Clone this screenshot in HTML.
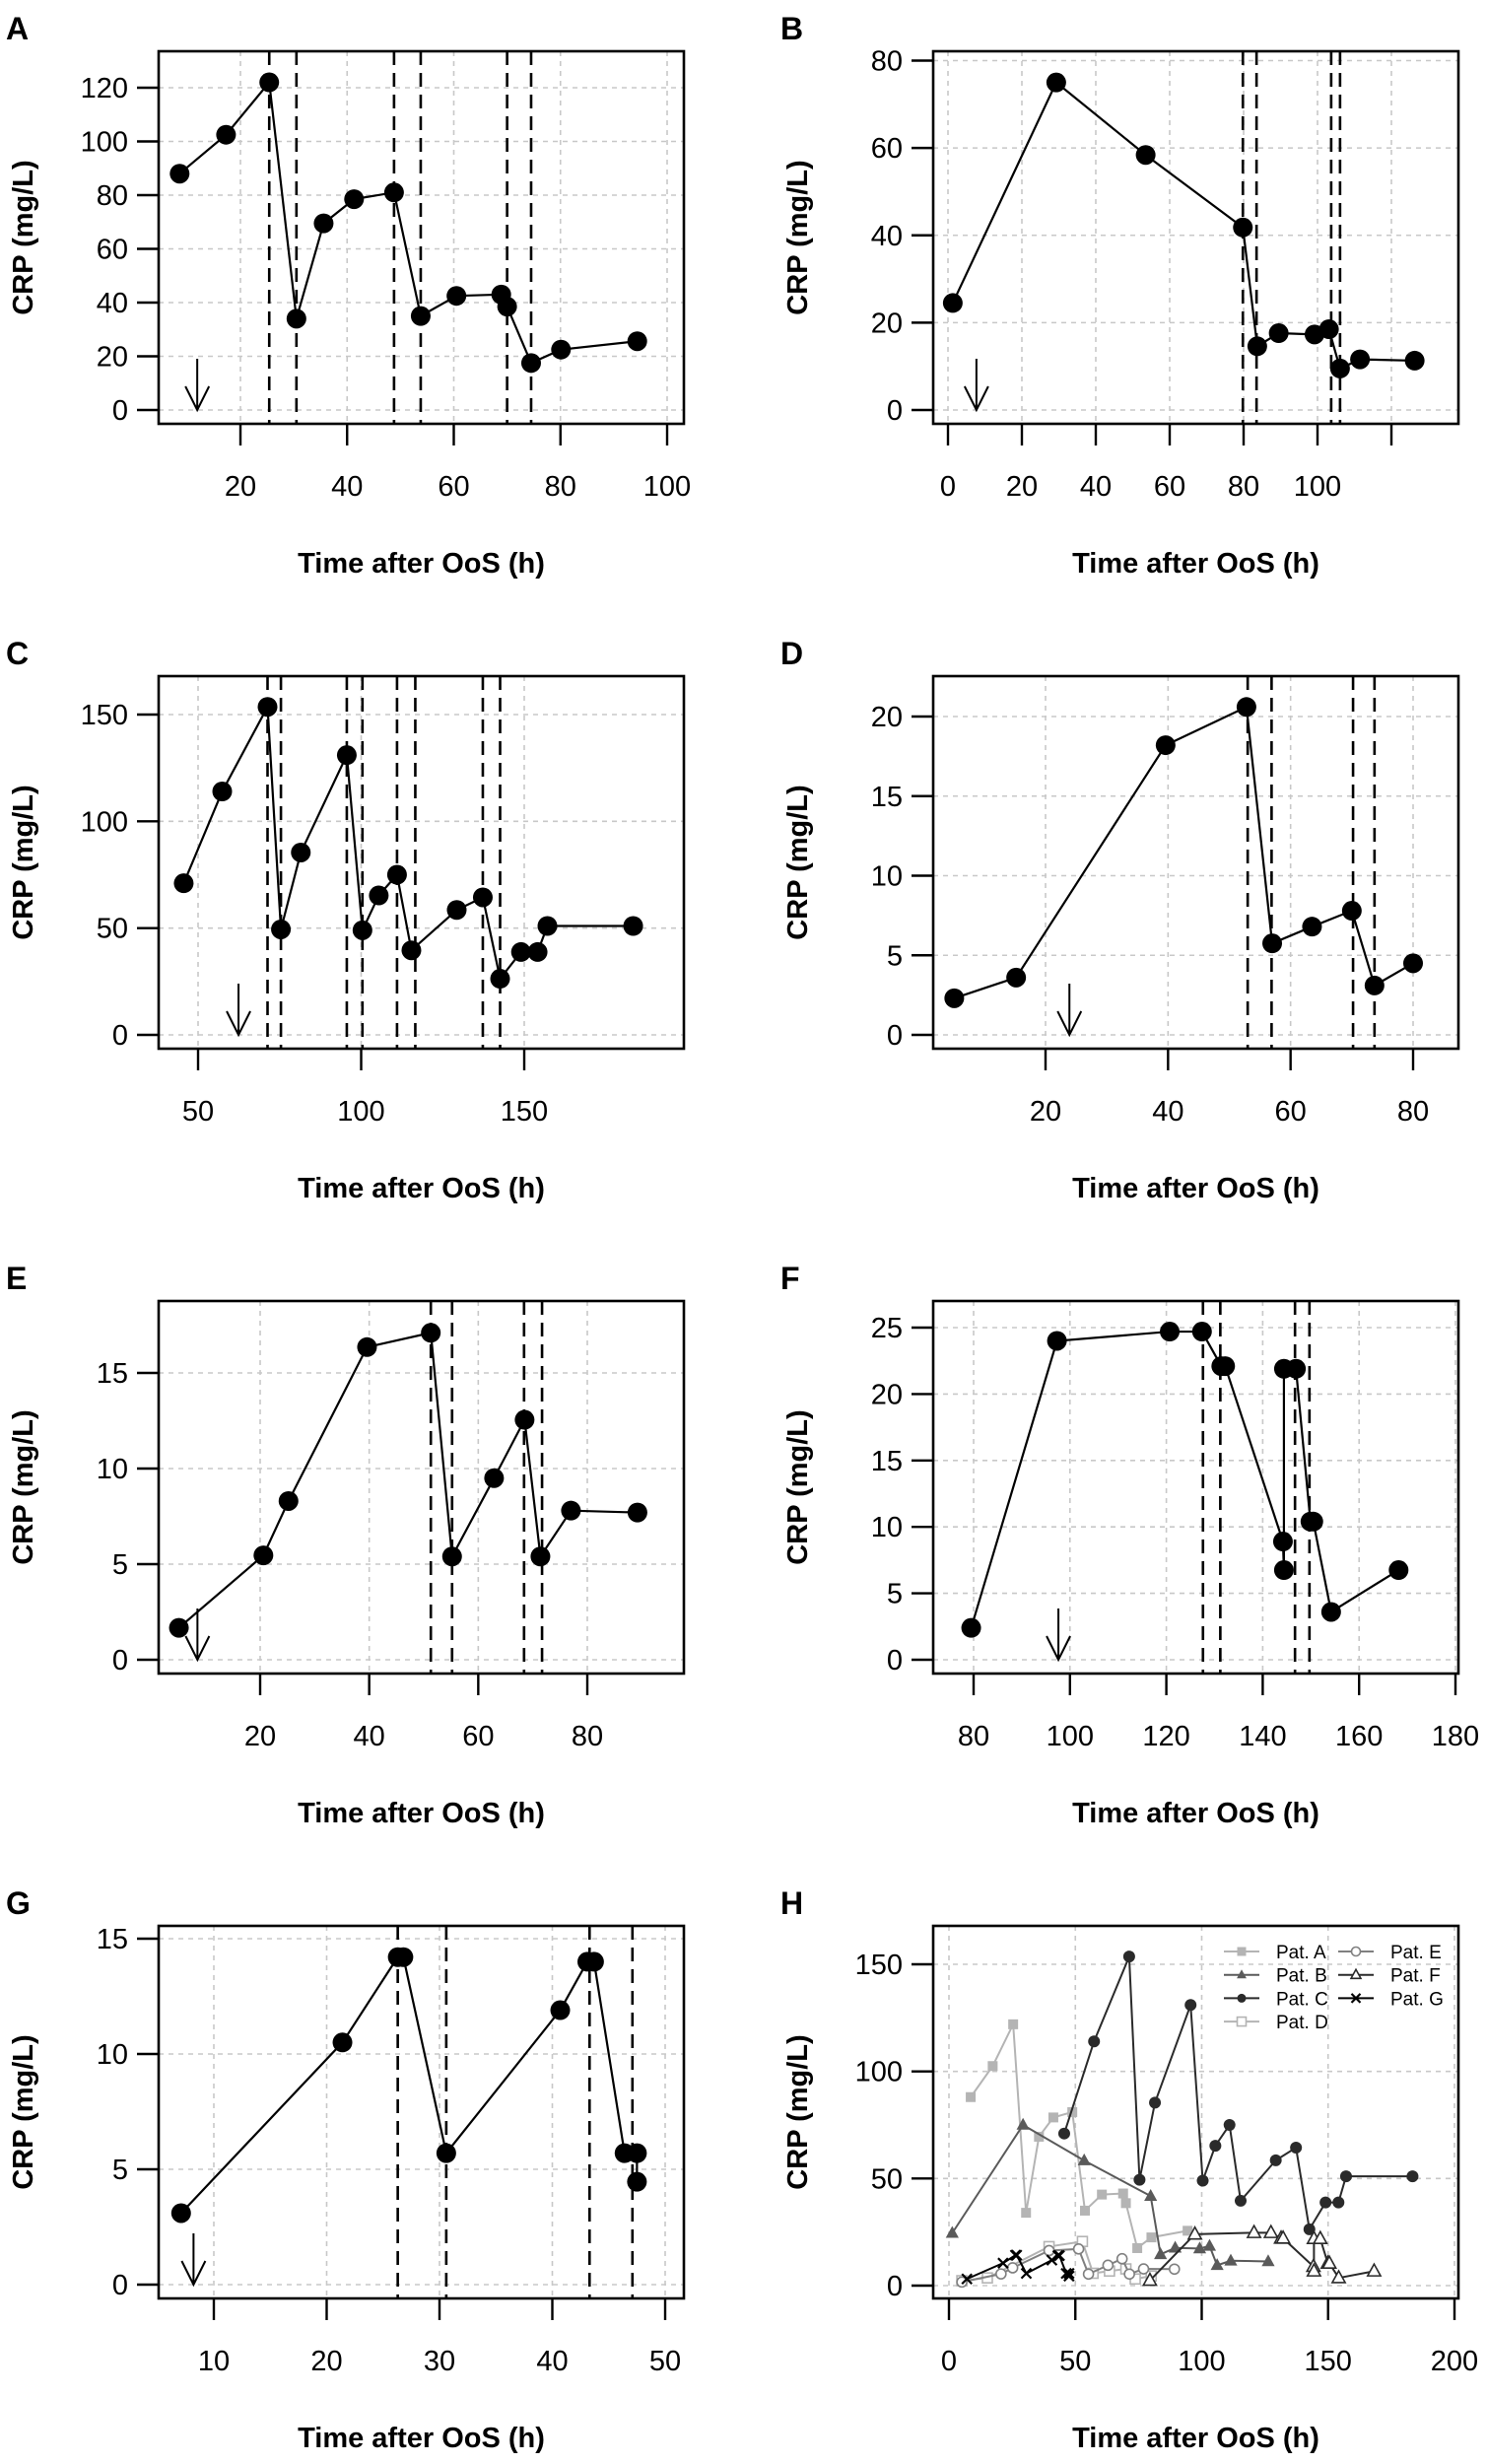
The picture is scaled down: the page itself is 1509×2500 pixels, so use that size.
<!DOCTYPE html>
<html><head><meta charset="utf-8">
<style>
html,body{margin:0;padding:0;background:#fff;}
svg{display:block;}
text{font-family:"Liberation Sans",Arial,sans-serif;fill:#000;}
</style></head>
<body>
<svg id="fig" width="1509" height="2500" viewBox="0 0 1509 2500" xmlns="http://www.w3.org/2000/svg"></svg>
<script>
// ---- data ----
const aTime=[8.6,17.3,25.4,30.5,35.6,41.3,48.8,53.8,60.5,68.9,70,74.5,80.1,94.4];
const aCrp=[88,102.5,122,34,69.5,78.5,81,35,42.5,43,38.5,17.5,22.5,25.6];
const aEvents=[25.4,30.5,48.8,53.8,70,74.5];
const aArrow=11.9;
const aXTicks=[20,40,60,80,100];
const aYTicks=[0,20,40,60,80,100,120];

const bTime=[1.3,29.3,53.5,79.8,83.7,89.5,99.2,103.1,106.1,111.5,126.3];
const bCrp=[24.5,75,58.4,41.8,14.6,17.6,17.3,18.5,9.5,11.6,11.3];
const bEvents=[79.8,83.5,103.7,106.1];
const bArrow=7.7;
const bXTicks=[0,20,40,60,80,100,120];
const bXLabels=["0","20","40","60","80","100",""];
const bYTicks=[0,20,40,60,80];

const cTime=[45.6,57.4,71.3,75.4,81.5,95.6,100.4,105.4,111,115.4,129.3,137.3,142.6,149,154.1,157.1,183.4];
const cCrp=[71,114,153.6,49.4,85.4,131,49,65.3,75,39.6,58.5,64.4,26.3,38.8,38.8,51,51];
const cEvents=[71.3,75.4,95.6,100.4,111,116.6,137.3,142.6];
const cArrow=62.4;
const cXTicks=[50,100,150];
const cYTicks=[0,50,100,150];

const dTime=[5.1,15.2,39.6,52.8,57,63.5,70,73.7,80];
const dCrp=[2.3,3.6,18.2,20.6,5.75,6.8,7.8,3.1,4.5];
const dEvents=[53,56.9,70.2,73.7];
const dArrow=23.9;
const dXTicks=[20,40,60,80];
const dYTicks=[0,5,10,15,20];

const eTime=[5.1,20.6,25.2,39.6,51.3,55.2,62.9,68.5,71.4,77,89.2];
const eCrp=[1.67,5.46,8.3,16.35,17.1,5.4,9.5,12.55,5.4,7.8,7.7];
const eEvents=[51.3,55.2,68.4,71.7];
const eArrow=8.5;
const eXTicks=[20,40,60,80];
const eYTicks=[0,5,10,15];

const fTime=[79.5,97.3,120.7,127.4,131.4,132.2,144.2,144.4,144.4,146.9,149.9,150.5,154.2,168.2];
const fCrp=[2.4,24,24.7,24.7,22.1,22.1,8.9,6.75,21.9,21.9,10.4,10.4,3.6,6.75];
const fEvents=[127.6,131.2,146.7,149.7];
const fArrow=97.6;
const fXTicks=[80,100,120,140,160,180];
const fYTicks=[0,5,10,15,20,25];

const gTime=[7.1,21.4,26.3,26.8,30.6,40.7,43.1,43.7,46.4,47.5,47.5];
const gCrp=[3.1,10.5,14.2,14.2,5.7,11.9,14,14,5.7,5.7,4.46];
const gEvents=[26.3,30.6,43.3,47.1];
const gArrow=8.2;
const gXTicks=[10,20,30,40,50];
const gYTicks=[0,5,10,15];

const hXTicks=[0,50,100,150,200];
const hYTicks=[0,50,100,150];
const hLegend=["Pat. A","Pat. B","Pat. C","Pat. D","Pat. E","Pat. F","Pat. G"];

// ---- helpers ----
const NS="http://www.w3.org/2000/svg";
const svg=document.getElementById('fig');
function mk(tag,attrs,parent){const e=document.createElementNS(NS,tag);for(const k in attrs)e.setAttribute(k,attrs[k]);(parent||svg).appendChild(e);return e;}

function linScale(v1,p1,v2,p2){return v=>p1+(v-v1)*(p2-p1)/(v2-v1);}

function drawMarker(g,kind,x,y,color,r){
  let el;
  if(kind==='dot'){el=mk('circle',{cx:x,cy:y,r:r,fill:color},g);}
  else if(kind==='sqf'){el=mk('rect',{x:x-r,y:y-r,width:2*r,height:2*r,fill:color},g);}
  else if(kind==='sqo'){el=mk('rect',{x:x-r,y:y-r,width:2*r,height:2*r,fill:'#fff',stroke:color,'stroke-width':1.6},g);}
  else if(kind==='tri'){el=mk('polygon',{points:`${x},${y-r*1.2} ${x-r*1.1},${y+r*0.8} ${x+r*1.1},${y+r*0.8}`,fill:color},g);}
  else if(kind==='trio'){el=mk('polygon',{points:`${x},${y-r*1.2} ${x-r*1.1},${y+r*0.8} ${x+r*1.1},${y+r*0.8}`,fill:'#fff',stroke:color,'stroke-width':1.6},g);}
  else if(kind==='circo'){el=mk('circle',{cx:x,cy:y,r:r,fill:'#fff',stroke:color,'stroke-width':1.6},g);}
  else if(kind==='x'){el=mk('path',{d:`M${x-r},${y-r}L${x+r},${y+r}M${x-r},${y+r}L${x+r},${y-r}`,stroke:color,'stroke-width':2.2,fill:'none'},g);}
  return el;
}

function panel(p){
  const g=mk('g',{});
  
  
  const L=p.left,T=p.top,W=533,H=378,R=L+W,B=T+H;
  const sx=linScale(p.xc[0],p.xc[1],p.xc[2],p.xc[3]);
  const sy=linScale(p.yc[0],T+p.yc[1],p.yc[2],T+p.yc[3]);
  const clip='clip'+p.letter;
  const cp=mk('clipPath',{id:clip},g);mk('rect',{x:L,y:T,width:W,height:H},cp);
  // grid
  const grid=mk('g',{});g.appendChild(grid);
  
  p.xt.forEach(v=>{const x=sx(v);if(x>L&&x<R)mk('line',{x1:x,y1:T,x2:x,y2:B,stroke:'#c8c8c8','stroke-width':1.6,'stroke-dasharray':'5,5'},grid);});
  p.yt.forEach(v=>{const y=sy(v);mk('line',{x1:L,y1:y,x2:R,y2:y,stroke:'#c8c8c8','stroke-width':1.6,'stroke-dasharray':'5,5'},grid);});
  // event lines
  if(p.events){p.events.forEach(v=>{const x=sx(v);const l=mk('line',{x1:x,y1:T,x2:x,y2:B,stroke:'#000','stroke-width':2.6,'stroke-dasharray':'14,8'},g);
    });}
  // arrow
  if(p.arrow!==undefined){const x=sx(p.arrow),y0=sy(0);
    const a=mk('path',{d:`M${x},${y0-52}L${x},${y0}M${x-12},${y0-24}L${x},${y0}L${x+12},${y0-24}`,stroke:'#000','stroke-width':2,fill:'none'},g);
    }
  // series
  const sg=mk('g',{'clip-path':`url(#${clip})`},g);
  p.series.forEach(s=>{
    const pts=s.t.map((t,i)=>sx(t)+','+sy(s.c[i])).join(' ');
    const pl=mk('polyline',{points:pts,fill:'none',stroke:s.color,'stroke-width':s.lw||2.2},sg);
    
    s.t.forEach((t,i)=>{const m=drawMarker(sg,s.marker,sx(t),sy(s.c[i]),s.color,s.r);
      });
  });
  // box
  const bx=mk('rect',{x:L,y:T,width:W,height:H,fill:'none',stroke:'#000','stroke-width':2.6},g);
  
  // x ticks
  p.xt.forEach((v,i)=>{const x=sx(v);
    mk('line',{x1:x,y1:B,x2:x,y2:B+22,stroke:'#000','stroke-width':2.4},g);
    const lab=p.xl?p.xl[i]:String(v);
    if(lab){const t=mk('text',{x:x,y:B+73,'text-anchor':'middle','font-size':29},g);t.textContent=lab;
      }});
  // y ticks
  p.yt.forEach(v=>{const y=sy(v);
    mk('line',{x1:L-22,y1:y,x2:L,y2:y,stroke:'#000','stroke-width':2.4},g);
    const t=mk('text',{x:L-31,y:y+10,'text-anchor':'end','font-size':29},g);t.textContent=String(v);
    });
  // titles
  const xt=mk('text',{x:(L+R)/2,y:B+151,'text-anchor':'middle','font-size':29,'font-weight':'bold'},g);
  xt.textContent='Time after OoS (h)';
  const cy=(T+B)/2,cx=L-128;
  const yt=mk('text',{x:cx,y:cy,'text-anchor':'middle','font-size':29,'font-weight':'bold',transform:`rotate(-90 ${cx} ${cy})`},g);
  yt.textContent='CRP (mg/L)';
  const lt=mk('text',{x:L-155,y:T-12,'font-size':32,'font-weight':'bold'},g);
  lt.textContent=p.letter;
  return g;
}

const LX=161,RX=947,TOPS=[52,686,1320,1954];
function single(t,c){return [{name:'crp',t:t,c:c,color:'#000',marker:'dot',r:10,lw:2.2}];}

panel({letter:'A',left:LX,top:TOPS[0],xc:[20,244,100,677],yc:[0,364,120,37],xt:aXTicks,yt:aYTicks,events:aEvents,arrow:aArrow,series:single(aTime,aCrp)});
panel({letter:'B',left:RX,top:TOPS[0],xc:[0,962,100,1337],yc:[0,364,80,9.5],xt:bXTicks,xl:bXLabels,yt:bYTicks,events:bEvents,arrow:bArrow,series:single(bTime,bCrp)});
panel({letter:'C',left:LX,top:TOPS[1],xc:[50,201,150,532],yc:[0,364,150,39],xt:cXTicks,yt:cYTicks,events:cEvents,arrow:cArrow,series:single(cTime,cCrp)});
panel({letter:'D',left:RX,top:TOPS[1],xc:[20,1061,80,1434],yc:[0,364,20,41],xt:dXTicks,yt:dYTicks,events:dEvents,arrow:dArrow,series:single(dTime,dCrp)});
panel({letter:'E',left:LX,top:TOPS[2],xc:[20,264,80,596],yc:[0,364,15,73],xt:eXTicks,yt:eYTicks,events:eEvents,arrow:eArrow,series:single(eTime,eCrp)});
panel({letter:'F',left:RX,top:TOPS[2],xc:[80,988,180,1477],yc:[0,364,25,27],xt:fXTicks,yt:fYTicks,events:fEvents,arrow:fArrow,series:single(fTime,fCrp)});
panel({letter:'G',left:LX,top:TOPS[3],xc:[10,217,50,675],yc:[0,364,15,13],xt:gXTicks,yt:gYTicks,events:gEvents,arrow:gArrow,series:single(gTime,gCrp)});

const hSeries=[
  {name:'pat-a',t:aTime,c:aCrp,color:'#b4b4b4',marker:'sqf',r:5,lw:2},
  {name:'pat-b',t:bTime,c:bCrp,color:'#5a5a5a',marker:'tri',r:6,lw:2},
  {name:'pat-c',t:cTime,c:cCrp,color:'#2a2a2a',marker:'dot',r:6,lw:2},
  {name:'pat-d',t:dTime,c:dCrp,color:'#b4b4b4',marker:'sqo',r:5,lw:2},
  {name:'pat-e',t:eTime,c:eCrp,color:'#808080',marker:'circo',r:5,lw:2},
  {name:'pat-f',t:fTime,c:fCrp,color:'#2a2a2a',marker:'trio',r:6,lw:2},
  {name:'pat-g',t:gTime,c:gCrp,color:'#000',marker:'x',r:5,lw:2}
];
panel({letter:'H',left:RX,top:TOPS[3],xc:[0,963,200,1476],yc:[0,365,150,39],xt:hXTicks,yt:hYTicks,series:hSeries});

// legend
const lg=mk('g',{});


const legPos=[[0,0],[0,1],[0,2],[0,3],[1,0],[1,1],[1,2]];
hLegend.forEach((lab,i)=>{
  const s=hSeries[i];const col=legPos[i][0],row=legPos[i][1];
  const x0=col?1358:1242,y=1980+row*23.7;
  const e=mk('g',{},lg);
  
  
  mk('line',{x1:x0,y1:y,x2:x0+36,y2:y,stroke:s.color,'stroke-width':2},e);
  drawMarker(e,s.marker,x0+18,y,s.color,4.5);
  const t=mk('text',{x:x0+53,y:y+7,'font-size':19},e);t.textContent=lab;
});
</script>
</body></html>
